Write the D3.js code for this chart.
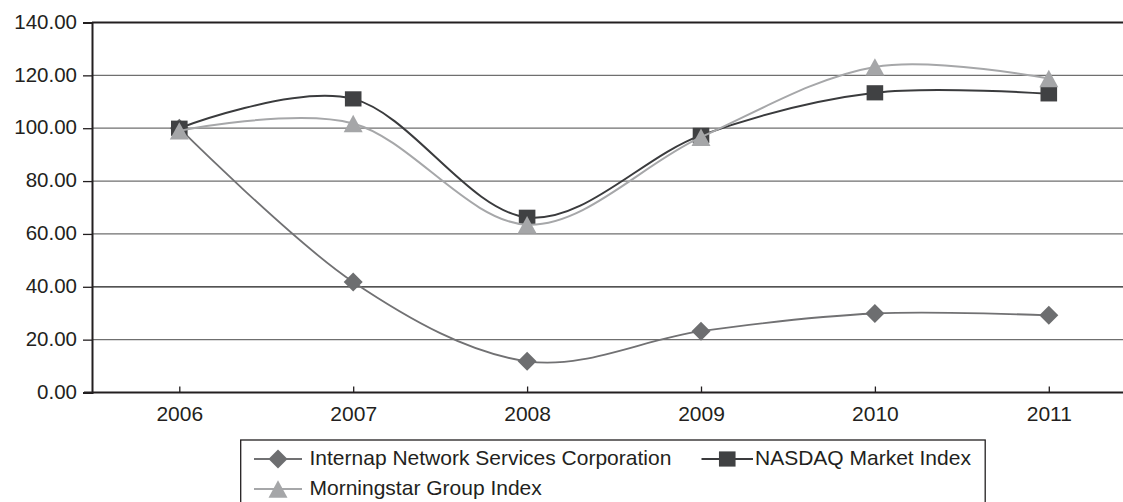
<!DOCTYPE html>
<html>
<head>
<meta charset="utf-8">
<script src="https://cdn.jsdelivr.net/npm/d3@7/dist/d3.min.js"></script>
<style>
  html, body { margin: 0; padding: 0; background: #fff; }
  svg { display: block; }
  text { font-family: "Liberation Sans", Arial, Helvetica, sans-serif; fill: #231f20; }
</style>
</head>
<body>
<svg id="chart" width="1123" height="502"></svg>
<script>
const years = ["2006", "2007", "2008", "2009", "2010", "2011"];
const internap = [100, 41.8, 11.8, 23.2, 29.9, 29.2];
const nasdaq = [100, 111.1, 66.3, 97.3, 113.4, 113.0];
const morningstar = [99, 101.8, 63.5, 96.6, 123.2, 118.8];
const yTicks = [0, 20, 40, 60, 80, 100, 120, 140];
const seriesNames = ["Internap Network Services Corporation", "NASDAQ Market Index", "Morningstar Group Index"];

const svg = d3.select("#chart");
const W = 1123;
const axisX = 92;

const x = d3.scalePoint().domain(years).range([179.3, 1048.8]);
const y = d3.scaleLinear().domain([0, 140]).range([392.5, 22.5]);

// gridlines
const grid = svg.append("g");
grid.selectAll("line").data(yTicks.filter(t => t > 0 && t < 140)).join("line")
  .attr("x1", axisX).attr("x2", W)
  .attr("y1", d => y(d)).attr("y2", d => y(d))
  .attr("stroke", d => d === 40 ? "#1a1a1a" : "#6f6f6f")
  .attr("stroke-width", 1.3);
// top border line
svg.append("line").attr("x1", axisX).attr("x2", W).attr("y1", y(140)).attr("y2", y(140))
  .attr("stroke", "#231f20").attr("stroke-width", 2);

// y axis
const yAxis = svg.append("g").attr("transform", `translate(${axisX},0)`)
  .call(d3.axisLeft(y).tickValues(yTicks).tickFormat(d3.format(".2f")).tickSizeOuter(0).tickSize(9).tickPadding(6));
yAxis.select(".domain").attr("stroke", "#231f20").attr("stroke-width", 2);
yAxis.selectAll(".tick line").attr("stroke", "#231f20").attr("stroke-width", 1.3);
yAxis.selectAll(".tick text").attr("font-size", "20.5px").attr("dy", "0.28em").attr("fill", "#231f20");

// x axis
const xAxis = svg.append("g").attr("transform", `translate(0,${y(0)})`)
  .call(d3.axisBottom(x).tickSize(-6).tickSizeOuter(0).tickPadding(14));
xAxis.select(".domain").attr("d", `M${axisX - 8},0H${W}`).attr("stroke", "#231f20").attr("stroke-width", 2);
xAxis.selectAll(".tick line").attr("stroke", "#231f20").attr("stroke-width", 1.3);
xAxis.selectAll(".tick text").attr("font-size", "21px").attr("fill", "#231f20");

const series = [
  { name: seriesNames[0], values: internap, line: "#717173", fill: "#6d6e70", width: 1.8, marker: "diamond" },
  { name: seriesNames[1], values: nasdaq, line: "#3a3b3d", fill: "#404143", width: 2, marker: "square" },
  { name: seriesNames[2], values: morningstar, line: "#a6a7a9", fill: "#a5a6a8", width: 2, marker: "triangle" }
];

function markerPath(type) {
  if (type === "diamond") return "M0,-9.5L9.5,0L0,9.5L-9.5,0Z";
  if (type === "square") return "M-8.3,-7.6H8.3V7.6H-8.3Z";
  return "M0,-8.7L9.5,8.7H-9.5Z";
}

const line = d3.line().curve(d3.curveCardinal.tension(0));

series.forEach(s => {
  const pts = s.values.map((v, i) => [x(years[i]), y(v)]);
  const g = svg.append("g");
  g.append("path").attr("d", line(pts)).attr("fill", "none")
    .attr("stroke", s.line).attr("stroke-width", s.width);
  g.selectAll("path.m").data(pts).join("path").attr("class", "m")
    .attr("transform", d => `translate(${d[0]},${d[1]})`)
    .attr("d", markerPath(s.marker)).attr("fill", s.fill);
});

// legend
const lg = svg.append("g");
lg.append("rect").attr("x", 240.7).attr("y", 440).attr("width", 744.5).attr("height", 80)
  .attr("fill", "#fff").attr("stroke", "#231f20").attr("stroke-width", 1.3);
const legendItems = [
  { s: series[0], lx: 254, ly: 459, tx: 309.5 },
  { s: series[1], lx: 701.5, ly: 459, tx: 755 },
  { s: series[2], lx: 254, ly: 489, tx: 309.5 }
];
legendItems.forEach(it => {
  const w = it.s.marker === "square" ? 51.5 : 48;
  lg.append("line").attr("x1", it.lx).attr("x2", it.lx + w).attr("y1", it.ly).attr("y2", it.ly)
    .attr("stroke", it.s.line).attr("stroke-width", 2);
  lg.append("path").attr("transform", `translate(${it.lx + w / 2},${it.ly})`)
    .attr("d", markerPath(it.s.marker)).attr("fill", it.s.fill);
  lg.append("text").attr("x", it.tx).attr("y", it.ly + 5.5).attr("font-size", "21px")
    .attr("fill", "#231f20").text(it.s.name);
});
</script>
</body>
</html>
